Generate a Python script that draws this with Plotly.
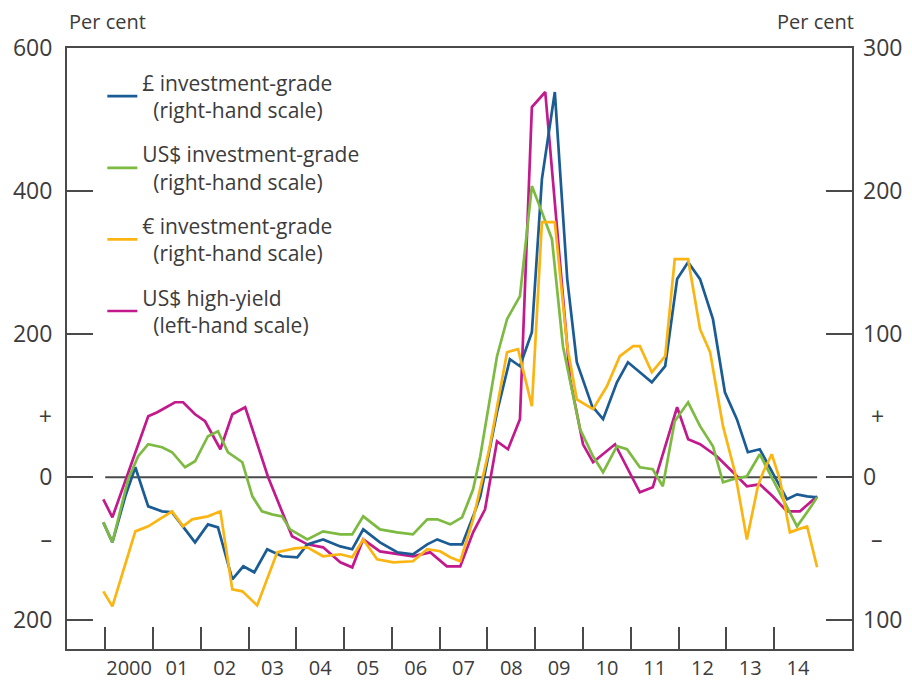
import plotly.graph_objects as go

# ---------------- data ----------------
gbp_dates = [1999.96, 2000.15, 2000.42, 2000.63, 2000.90, 2001.19, 2001.40, 2001.67, 2001.88, 2002.15,
             2002.36, 2002.66, 2002.89, 2003.12, 2003.39, 2003.70, 2004.02, 2004.23, 2004.56, 2004.92,
             2005.17, 2005.40, 2005.75, 2006.11, 2006.44, 2006.74, 2006.95, 2007.22, 2007.47, 2007.70,
             2007.85, 2008.20, 2008.47, 2008.68, 2008.93, 2009.14, 2009.41, 2009.67, 2009.87, 2010.19,
             2010.42, 2010.71, 2010.94, 2011.19, 2011.44, 2011.72, 2011.97, 2012.20, 2012.45, 2012.72,
             2012.97, 2013.22, 2013.45, 2013.70, 2013.97, 2014.27, 2014.48, 2014.69, 2014.90]
gbp_values = [-31.5, -45.5, -13.3, 7.0, -20.3, -23.8, -24.5, -36.4, -45.5, -32.9,
              -35.0, -71.3, -62.2, -66.4, -50.3, -55.2, -55.9, -46.9, -43.4, -48.3,
              -50.3, -36.4, -45.5, -52.4, -53.8, -46.9, -43.4, -46.9, -46.9, -27.3,
              -13.3, 45.5, 82.5, 77.6, 101.4, 208.4, 269.2, 138.5, 80.4, 49.7,
              40.6, 66.4, 80.4, 73.4, 66.4, 77.6, 138.5, 150.3, 138.5, 110.5,
              59.4, 40.6, 17.5, 19.6, 3.5, -15.4, -11.9, -13.3, -14.0]

usd_ig_dates = [1999.96, 2000.15, 2000.48, 2000.69, 2000.90, 2001.19, 2001.40, 2001.67, 2001.88, 2002.15,
                2002.36, 2002.57, 2002.87, 2003.08, 2003.28, 2003.49, 2003.70, 2003.87, 2004.23, 2004.56,
                2004.92, 2005.17, 2005.40, 2005.75, 2006.11, 2006.44, 2006.74, 2006.95, 2007.22, 2007.47,
                2007.70, 2007.85, 2008.20, 2008.41, 2008.68, 2008.93, 2009.14, 2009.35, 2009.58, 2009.94,
                2010.21, 2010.42, 2010.71, 2010.92, 2011.19, 2011.46, 2011.67, 2011.92, 2012.20, 2012.45,
                2012.72, 2012.93, 2013.14, 2013.43, 2013.70, 2013.97, 2014.27, 2014.48, 2014.69, 2014.90]
usd_ig_values = [-31.5, -45.5, -1.4, 14.7, 23.1, 21.0, 17.5, 7.0, 11.2, 28.7,
                 32.2, 17.5, 10.5, -13.3, -23.8, -25.9, -27.3, -36.4, -43.4, -37.8,
                 -39.9, -39.9, -27.3, -36.4, -38.5, -39.9, -29.4, -29.4, -32.9, -28.0,
                 -8.4, 14.7, 84.6, 110.5, 126.6, 203.5, 185.3, 166.4, 91.6, 33.6,
                 14.7, 3.5, 21.7, 19.6, 7.0, 5.6, -6.3, 39.2, 52.4, 35.7,
                 21.7, -3.5, -1.4, 0.7, 16.1, -1.4, -20.3, -34.3, -24.5, -14.0]

eur_dates = [1999.96, 2000.15, 2000.63, 2000.90, 2001.40, 2001.63, 2001.82, 2002.15, 2002.41, 2002.66,
             2002.87, 2003.18, 2003.60, 2003.97, 2004.23, 2004.56, 2004.92, 2005.17, 2005.40, 2005.69,
             2006.03, 2006.44, 2006.74, 2007.01, 2007.22, 2007.43, 2007.70, 2007.85, 2008.05, 2008.41,
             2008.64, 2008.93, 2009.14, 2009.41, 2009.67, 2009.87, 2010.21, 2010.50, 2010.77, 2011.05,
             2011.19, 2011.44, 2011.72, 2011.92, 2012.20, 2012.45, 2012.66, 2012.93, 2013.18, 2013.43,
             2013.66, 2013.77, 2013.95, 2014.12, 2014.33, 2014.50, 2014.69, 2014.90]
eur_values = [-79.7, -90.2, -37.8, -34.3, -23.8, -34.3, -29.4, -27.3, -23.8, -78.3,
              -79.7, -89.5, -52.4, -49.7, -49.0, -55.2, -53.8, -55.9, -43.4, -57.3,
              -59.4, -58.7, -50.3, -51.7, -55.9, -58.7, -29.4, -8.4, 21.7, 87.4,
              89.5, 49.7, 178.3, 178.3, 91.6, 54.5, 47.6, 63.6, 84.6, 91.6,
              91.6, 73.4, 84.6, 152.4, 152.4, 103.5, 87.4, 35.7, 3.5, -43.4,
              -6.3, 3.5, 16.1, -1.4, -38.5, -36.4, -34.3, -62.9]

hy_dates = [1999.96, 2000.15, 2000.90, 2001.09, 2001.46, 2001.63, 2001.88, 2002.09, 2002.41, 2002.66,
            2002.93, 2003.41, 2003.91, 2004.23, 2004.56, 2004.92, 2005.17, 2005.40, 2005.75, 2006.11,
            2006.44, 2006.80, 2007.15, 2007.43, 2007.70, 2007.95, 2008.20, 2008.43, 2008.68, 2008.93,
            2009.21, 2009.73, 2010.00, 2010.21, 2010.67, 2011.19, 2011.46, 2011.97, 2012.20, 2012.45,
            2012.80, 2013.14, 2013.43, 2013.70, 2013.97, 2014.27, 2014.54, 2014.90]
hy_values = [-30.8, -55.9, 85.3, 90.9, 104.9, 104.9, 88.1, 78.3, 39.2, 88.1,
             97.9, 0.0, -82.5, -93.7, -97.9, -118.9, -125.9, -86.7, -103.5, -107.7,
             -110.5, -104.9, -124.5, -124.5, -76.9, -44.8, 50.3, 39.2, 81.1, 517.5,
             538.5, 137.1, 46.0, 21.0, 46.2, -21.0, -14.0, 97.9, 53.1, 46.2,
             29.4, 7.0, -12.6, -9.8, -26.6, -47.6, -47.6, -26.6]

year_labels = ["2000", "01", "02", "03", "04", "05", "06", "07", "08", "09", "10", "11", "12", "13", "14"]
year_starts = list(range(2000, 2015))
left_ticks = [-200, 0, 200, 400, 600]
left_text = ["200", "0", "200", "400", "600"]
right_ticks = [-100, 0, 100, 200, 300]
right_text = ["100", "0", "100", "200", "300"]

# ---------------- styling ----------------
FONT = "Open Sans"
TXT = "#3c3c3c"
AX = "#4a4a4a"
C_GBP = "#1b5c95"
C_USD = "#7dba41"
C_EUR = "#fbb512"
C_HY = "#c21a8c"
NB = "\u00a0"
TICK_FS = 23
XTICK_FS = 20
LEG_FS = 21

fig = go.Figure()

def add(x, y, name, color, axis, grp):
    fig.add_trace(go.Scatter(x=x, y=y, name=name, mode="lines",
                             line=dict(color=color, width=2.7),
                             yaxis=axis, legendgroup=grp))

IND = NB * 2
add(gbp_dates, gbp_values, "£ investment-grade<br>" + IND + "(right-hand scale)", C_GBP, "y2", "a")
add(usd_ig_dates, usd_ig_values, "US$ investment-grade<br>" + IND + "(right-hand scale)", C_USD, "y2", "b")
add(eur_dates, eur_values, "€ investment-grade<br>" + IND + "(right-hand scale)", C_EUR, "y2", "c")
add(hy_dates, hy_values, "US$ high-yield<br>" + IND + "(left-hand scale)", C_HY, "y", "d")

# zero line over the data span
fig.add_shape(type="line", xref="x", yref="y", x0=year_starts[0], x1=hy_dates[-1], y0=0, y1=0,
              line=dict(color=AX, width=2), layer="below")

xr = [1999.2, 2015.63]
fig.update_layout(
    width=912, height=682,
    margin=dict(l=67, r=60, t=48, b=33, autoexpand=False),
    paper_bgcolor="white", plot_bgcolor="white",
    font=dict(family=FONT, size=TICK_FS, color=TXT),
    showlegend=True,
    legend=dict(x=0.045, y=0.976, xanchor="left", yanchor="top",
                bgcolor="rgba(0,0,0,0)", font=dict(size=LEG_FS, color=TXT),
                tracegroupgap=14, itemwidth=30, traceorder="grouped"),
    xaxis=dict(range=xr, tickmode="array", automargin=False,
               tickvals=[y + 0.5 for y in year_starts], ticktext=year_labels,
               ticks="", showgrid=False, zeroline=False,
               showline=True, linecolor=AX, linewidth=2, mirror=True,
               ticklabelstandoff=0,
               tickfont=dict(size=XTICK_FS, color=TXT)),
    xaxis2=dict(range=xr, overlaying="x", anchor="y", side="bottom", automargin=False,
                tickmode="array", tickvals=year_starts, showticklabels=False,
                ticks="inside", ticklen=22, tickwidth=2, tickcolor=AX,
                showgrid=False, zeroline=False, showline=False),
    yaxis=dict(range=[-240, 600], tickmode="array", tickvals=left_ticks, ticktext=left_text,
               ticks="inside", ticklen=26, tickwidth=2, tickcolor=AX, automargin=False,
               showgrid=False, zeroline=False,
               showline=True, linecolor=AX, linewidth=2, mirror=True,
               ticklabelstandoff=8),
    yaxis2=dict(range=[-120, 300], overlaying="y", side="right", anchor="x", automargin=False,
                tickmode="array", tickvals=right_ticks, ticktext=right_text,
                ticks="inside", ticklen=26, tickwidth=2, tickcolor=AX,
                showgrid=False, zeroline=False, showline=False,
                ticklabelstandoff=10),
    yaxis3=dict(range=[-240, 600], overlaying="y", side="left", anchor="x", automargin=False,
                tickmode="array", tickvals=[84, -87], ticktext=["+", "–"],
                ticks="", showgrid=False, zeroline=False, showline=False,
                ticklabelstandoff=14, tickfont=dict(size=23, color=TXT)),
    yaxis4=dict(range=[-120, 300], overlaying="y", side="right", anchor="x", automargin=False,
                tickmode="array", tickvals=[42, -43.5], ticktext=["+", "–"],
                ticks="", showgrid=False, zeroline=False, showline=False,
                ticklabelstandoff=18, tickfont=dict(size=23, color=TXT)),
)

# invisible helper traces so the overlay axes render
fig.add_trace(go.Scatter(x=[xr[0]], y=[0], xaxis="x2", yaxis="y", mode="markers",
                         marker=dict(opacity=0), showlegend=False, hoverinfo="skip"))
fig.add_trace(go.Scatter(x=[xr[0]], y=[0], yaxis="y3", mode="markers",
                         marker=dict(opacity=0), showlegend=False, hoverinfo="skip"))
fig.add_trace(go.Scatter(x=[xr[0]], y=[0], yaxis="y4", mode="markers",
                         marker=dict(opacity=0), showlegend=False, hoverinfo="skip"))

fig.add_annotation(text="Per cent", xref="paper", yref="paper", x=0, y=1, xanchor="left", yanchor="bottom",
                   yshift=11, showarrow=False, font=dict(size=20, color=TXT))
fig.add_annotation(text="Per cent", xref="paper", yref="paper", x=1, y=1, xanchor="right", yanchor="bottom",
                   yshift=11, xshift=4, showarrow=False, font=dict(size=20, color=TXT))

fig.write_html("out.html", config={"displayModeBar": False},
               post_script="document.body.style.margin='0';document.body.style.overflow='hidden';")
